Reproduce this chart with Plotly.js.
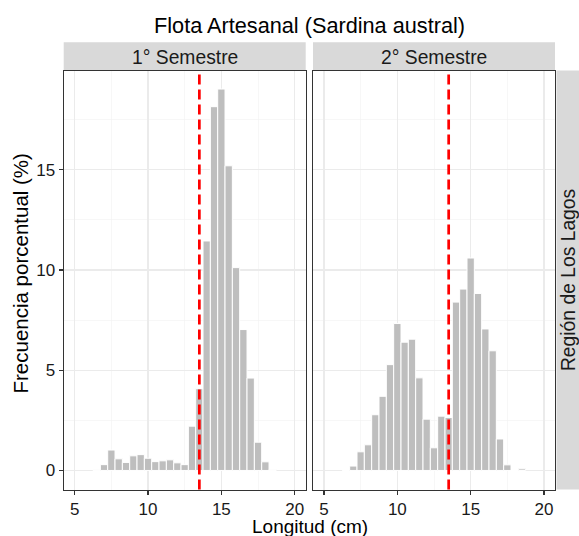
<!DOCTYPE html>
<html>
<head>
<meta charset="utf-8">
<script src="https://cdn.plot.ly/plotly-3.0.1.min.js"></script>
<style>html,body{margin:0;padding:0;background:#fff;}#chart{width:579px;height:536px;}</style>
</head>
<body>
<div id="chart"></div>
<script>
// ---- data ----
const lengthBins = [6.5,7,7.5,8,8.5,9,9.5,10,10.5,11,11.5,12,12.5,13,13.5,14,14.5,15,15.5,16,16.5,17,17.5,18,18.5];
const sem1Freq = [0.04,0.29,1.02,0.58,0.40,0.73,0.79,0.61,0.44,0.48,0.53,0.38,0.29,2.21,4.08,11.45,18.15,19.03,15.2,10.12,7.03,4.61,1.41,0.43,0.04];
const sem2Freq = [0,0.22,0.93,1.28,2.78,3.70,5.28,7.33,6.40,6.55,4.62,2.56,1.13,2.71,2.64,8.40,9.05,10.60,8.83,7.06,5.97,1.57,0.28,0,0.08];
const panelNames = ["1° Semestre","2° Semestre"];
const regionName = "Región de Los Lagos";
const titleText = "Flota Artesanal (Sardina austral)";
const xTitle = "Longitud (cm)";
const yTitle = "Frecuencia porcentual (%)";
const xTicks = [5,10,15,20];
const yTicks = [0,5,10,15];
const refLength = 13.5;

// ---- layout helpers ----
const W = 579, H = 536;
const fx = x => x / W;
const fy = y => (H - y) / H;
const P1 = [63.7, 305.7], P2 = [313, 555];
const PT = 70.6, PB = 489.5;
const FONT = "Liberation Sans, Arial, sans-serif";

const barStyle = {color: "#BEBEBE", line: {color: "#FFFFFF", width: 1}};
const traces = [
  {type: "bar", x: lengthBins, y: sem1Freq, width: 0.5, xaxis: "x", yaxis: "y", marker: barStyle, hoverinfo: "x+y"},
  {type: "bar", x: lengthBins, y: sem2Freq, width: 0.5, xaxis: "x2", yaxis: "y2", marker: barStyle, hoverinfo: "x+y"}
];

function xAxis(dom) {
  return {
    domain: dom, range: [4.25, 20.75], tickvals: xTicks, ticktext: xTicks.map(String),
    showgrid: true, gridcolor: "#EBEBEB", gridwidth: 1.1,
    minor: {tickvals: [7.5, 12.5, 17.5], showgrid: true, gridcolor: "#F2F2F2", gridwidth: 0.6, ticks: ""},
    zeroline: false, showline: true, mirror: true, linecolor: "#333333", linewidth: 1.1,
    ticks: "outside", ticklen: 4, tickcolor: "#333333", tickwidth: 1.1,
    tickfont: {family: FONT, size: 17, color: "#1A1A1A"}, fixedrange: true
  };
}
function yAxis(anchor, labels) {
  return {
    domain: [fy(PB), fy(PT)], range: [-0.95, 19.95], anchor: anchor,
    tickvals: yTicks, ticktext: yTicks.map(String),
    showgrid: true, gridcolor: "#EBEBEB", gridwidth: 1.1,
    minor: {tickvals: [2.5, 7.5, 12.5, 17.5], showgrid: true, gridcolor: "#F2F2F2", gridwidth: 0.6, ticks: ""},
    zeroline: false, showline: true, mirror: true, linecolor: "#333333", linewidth: 1.1,
    ticks: labels ? "outside" : "", ticklen: 4, tickcolor: "#333333", tickwidth: 1.1,
    showticklabels: labels,
    tickfont: {family: FONT, size: 17, color: "#1A1A1A"}, fixedrange: true
  };
}

const shapes = [
  {type: "rect", xref: "paper", yref: "paper", x0: fx(P1[0]), x1: fx(P1[1]), y0: fy(PT), y1: fy(42.3), fillcolor: "#D9D9D9", line: {width: 0}, layer: "below"},
  {type: "rect", xref: "paper", yref: "paper", x0: fx(P2[0]), x1: fx(P2[1]), y0: fy(PT), y1: fy(42.3), fillcolor: "#D9D9D9", line: {width: 0}, layer: "below"},
  {type: "rect", xref: "paper", yref: "paper", x0: fx(556.5), x1: 1.05, y0: fy(PB), y1: fy(PT), fillcolor: "#D9D9D9", line: {width: 0}, layer: "below"},
  {type: "line", xref: "x", yref: "y domain", x0: refLength, x1: refLength, y0: 0, y1: 1, line: {color: "#FF0000", width: 2.7, dash: "10px,5px"}},
  {type: "line", xref: "x2", yref: "y2 domain", x0: refLength, x1: refLength, y0: 0, y1: 1, line: {color: "#FF0000", width: 2.7, dash: "10px,5px"}}
];

const annotations = [
  {text: panelNames[0], xref: "paper", yref: "paper", x: fx((P1[0] + P1[1]) / 2), y: fy(57), xanchor: "center", yanchor: "middle", showarrow: false, font: {family: FONT, size: 19.3, color: "#1A1A1A"}},
  {text: panelNames[1], xref: "paper", yref: "paper", x: fx((P2[0] + P2[1]) / 2), y: fy(57), xanchor: "center", yanchor: "middle", showarrow: false, font: {family: FONT, size: 19.3, color: "#1A1A1A"}},
  {text: regionName, xref: "paper", yref: "paper", x: fx(568), y: fy((PT + PB) / 2), xanchor: "center", yanchor: "middle", textangle: -90, showarrow: false, font: {family: FONT, size: 19.3, color: "#1A1A1A"}},
  {text: titleText, xref: "paper", yref: "paper", x: fx(309.5), y: fy(25.5), xanchor: "center", yanchor: "middle", showarrow: false, font: {family: FONT, size: 21.7, color: "#000000"}},
  {text: xTitle, xref: "paper", yref: "paper", x: fx(309.5), y: fy(526.5), xanchor: "center", yanchor: "middle", showarrow: false, font: {family: FONT, size: 19, color: "#000000"}},
  {text: yTitle, xref: "paper", yref: "paper", x: fx(19.5), y: fy(274), xanchor: "center", yanchor: "middle", textangle: -90, showarrow: false, font: {family: FONT, size: 20.5, color: "#000000"}}
];

const layout = {
  width: W, height: H, margin: {l: 0, r: 0, t: 0, b: 0, pad: 0},
  paper_bgcolor: "#FFFFFF", plot_bgcolor: "#FFFFFF", showlegend: false,
  xaxis: Object.assign(xAxis([fx(P1[0]), fx(P1[1])]), {anchor: "y"}),
  xaxis2: Object.assign(xAxis([fx(P2[0]), fx(P2[1])]), {anchor: "y2"}),
  yaxis: yAxis("x", true),
  yaxis2: yAxis("x2", false),
  shapes: shapes, annotations: annotations, bargap: 0
};

Plotly.newPlot("chart", traces, layout, {displayModeBar: false, staticPlot: true});
</script>
</body>
</html>
